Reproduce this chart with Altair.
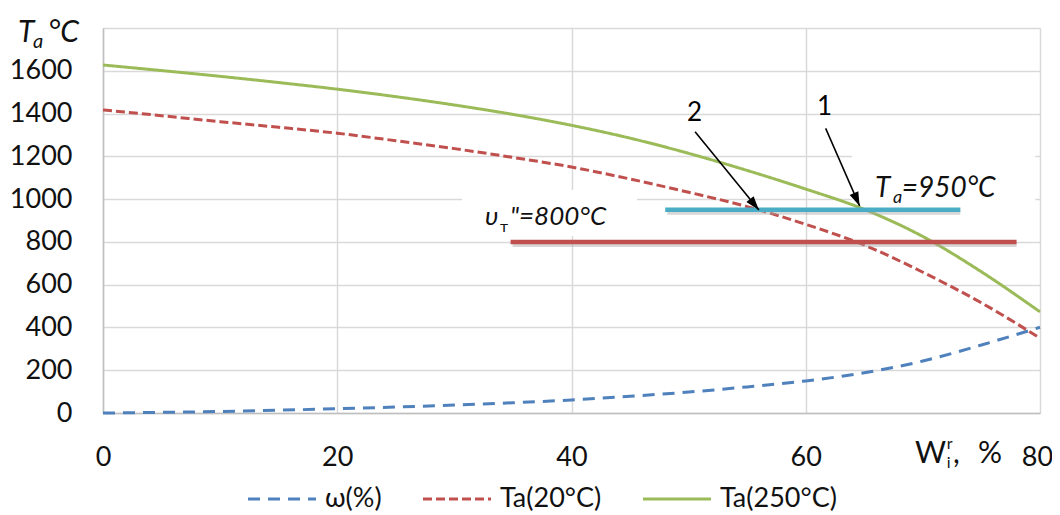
import math
import altair as alt
import pandas as pd

# ---------------- data ----------------
x_vals = [0, 5, 10, 15, 20, 25, 30, 35, 40, 45, 50, 55, 60, 65, 70, 75, 80]
omega = [0, 3, 7, 13, 20, 28, 37, 48, 61, 78, 98, 122, 150, 188, 243, 318, 401]
ta20 = [1417, 1390, 1362, 1336, 1308, 1273, 1236, 1195, 1150, 1094, 1032, 965, 882, 785, 658, 515, 350]
ta250 = [1627, 1601, 1574, 1545, 1514, 1479, 1440, 1396, 1345, 1285, 1214, 1134, 1047, 952, 825, 660, 473]
series_names = ["ω(%)", "Ta(20°C)", "Ta(250°C)"]
series_colors = ["#4F81BD", "#C0504D", "#9BBB59"]
series_dash = [[12, 8], [9, 4], [1, 0]]

# horizontal threshold segments
ref_y = [950, 800]
ref_x1 = [48.0, 34.8]
ref_x2 = [73.2, 78.0]
ref_colors = ["#4BACC6", "#C0504D"]

# arrows "1" and "2"
arrow_labels = ["1", "2"]
arrow_x1 = [61.7, 50.55]
arrow_y1 = [1331, 1315]
arrow_x2 = [64.6, 56.0]
arrow_y2 = [968, 949]
label_x = [61.6, 50.5]
label_y = [1432, 1402]

y_ticks = [0, 200, 400, 600, 800, 1000, 1200, 1400, 1600, 1800]
x_ticks = [0, 20, 40, 60, 80]

W, H = 937, 385
X_MAX, Y_MAX = 80, 1800
FONT = "Lato"
FS = 27

rows = []
for name, vals in zip(series_names, [omega, ta20, ta250]):
    for xv, yv in zip(x_vals, vals):
        rows.append({"x": xv, "y": yv, "series": name})
df = pd.DataFrame(rows)

xs = alt.Scale(domain=[0, X_MAX], nice=False, zero=False)
ys = alt.Scale(domain=[0, Y_MAX], nice=False, zero=False)

x_axis = alt.Axis(values=x_ticks, title=None, grid=True, gridColor="#D9D9D9", gridWidth=1.5,
                  domainColor="#BFBFBF", domainWidth=1.5, ticks=False, labelFlush=False,
                  labelPadding=31, labelFontSize=FS, labelFont=FONT, labelColor="#111111", format="d",
                  labelOffset={"condition": {"test": "datum.value == 80", "value": -3}, "value": 0})
y_axis = alt.Axis(values=y_ticks, title=None, grid=True, gridColor="#D9D9D9", gridWidth=1.5,
                  domainColor="#BFBFBF", domainWidth=1.5, ticks=False, labelPadding=31,
                  labelFontSize=FS, labelFont=FONT, labelColor="#111111", format="d",
                  labelExpr="datum.value == 1800 ? '' : datum.label")


def X(f="x"):
    return alt.X(f, type="quantitative", scale=xs, axis=x_axis)


def Y(f="y"):
    return alt.Y(f, type="quantitative", scale=ys, axis=y_axis)


# white boxes behind the text labels (hide gridlines as in the original)
box_df = pd.DataFrame({"x": [30.65, 63.95], "x2": [45.6, 79.6], "y": [1043, 1230], "y2": [828, 977]})
boxes = alt.Chart(box_df).mark_rect(color="white").encode(x=X(), x2="x2", y=Y(), y2="y2")

legend = alt.Legend(title=None, orient="none", legendX=143, legendY=435, direction="horizontal",
                    symbolType="stroke", symbolSize=4624, symbolStrokeWidth=3.2,
                    labelFontSize=FS, labelFont=FONT, labelColor="#111111", labelOffset=7,
                    columnPadding=34, padding=0, labelLimit=300)

lines = alt.Chart(df).mark_line(strokeWidth=3, interpolate="monotone").encode(
    x=X(), y=Y(),
    color=alt.Color("series:N", scale=alt.Scale(domain=series_names, range=series_colors), legend=legend,
                    sort=series_names),
    strokeDash=alt.StrokeDash("series:N", scale=alt.Scale(domain=series_names, range=series_dash),
                              legend=legend, sort=series_names),
)

ref_df = pd.DataFrame({"x": ref_x1, "x2": ref_x2, "y": ref_y, "c": ref_colors})
ref_shadow = alt.Chart(ref_df).mark_rule(strokeWidth=4, color="#A6A6A6", opacity=0.45,
                                         yOffset=3, xOffset=2).encode(x=X(), x2="x2", y=Y())
ref_lines = alt.Chart(ref_df).mark_rule(strokeWidth=4.5).encode(
    x=X(), x2="x2", y=Y(), color=alt.Color("c:N", scale=None, legend=None))

# arrows
px_x, px_y = W / X_MAX, H / Y_MAX
angles = []
for a, b, c, d in zip(arrow_x1, arrow_y1, arrow_x2, arrow_y2):
    dx = (c - a) * px_x
    dy = -(d - b) * px_y
    ang = math.degrees(math.atan2(dx, -dy)) % 360
    angles.append(ang)
arr_df = pd.DataFrame({"x": arrow_x1, "y": arrow_y1, "x2": arrow_x2, "y2": arrow_y2,
                       "ang": angles, "lx": label_x, "ly": label_y, "lab": arrow_labels})
arrow_shafts = alt.Chart(arr_df).mark_rule(color="black", strokeWidth=1.6).encode(
    x=X(), y=Y(), x2="x2", y2="y2")
arrow_heads = alt.Chart(arr_df).mark_point(shape="M0,0L0.7,2.1L-0.7,2.1Z", filled=True, color="black",
                                           opacity=1, size=180, strokeWidth=0).encode(
    x=X("x2"), y=Y("y2"), angle=alt.Angle("ang:Q", scale=None))
arrow_text = alt.Chart(arr_df).mark_text(fontSize=26, font=FONT, color="black", baseline="middle",
                                         align="center").encode(x=X("lx"), y=Y("ly"), text="lab:N")

# texts (multi-part for sub/superscripts)
txt_parts = [
    # text, x, y, size, style
    ("T", -7.26, 1736, 30, "italic"),
    ("a", -5.98, 1708, 20, "italic"),
    ("°C", -4.7, 1736, 30, "italic"),
    ("υ", 32.61, 879, 26, "italic"),
    ("т", 33.9, 848, 16, "normal"),
    ("\"=800°C", 34.75, 879, 26, "italic"),
    ("T", 65.91, 1008, 28, "italic"),
    ("a", 67.45, 980, 18, "italic"),
    ("=950°C", 68.19, 1008, 28, "italic"),
    ("W", 69.33, -235, 30, "normal"),
    ("r", 72.03, -168, 16, "normal"),
    ("i", 72.03, -257, 16, "normal"),
    (",", 72.57, -235, 30, "normal"),
    ("%", 74.7, -235, 30, "normal"),
]
txt_layers = []
for t, tx, ty, sz, st in txt_parts:
    tdf = pd.DataFrame({"x": [tx], "y": [ty], "t": [t]})
    txt_layers.append(alt.Chart(tdf).mark_text(fontSize=sz, font=FONT, fontStyle=st, color="#111111",
                                               align="left", baseline="alphabetic").encode(
        x=X(), y=Y(), text="t:N"))

chart = alt.layer(boxes, lines, ref_shadow, ref_lines, arrow_shafts, arrow_heads, arrow_text,
                  *txt_layers).properties(
    width=W, height=H,
    autosize=alt.AutoSizeParams(type="none"),
    padding={"left": 95, "top": 20, "right": 12, "bottom": 100},
).configure_view(stroke=None).configure(background="white")

chart.save("out.html", embed_options={"renderer": "svg", "actions": False})
